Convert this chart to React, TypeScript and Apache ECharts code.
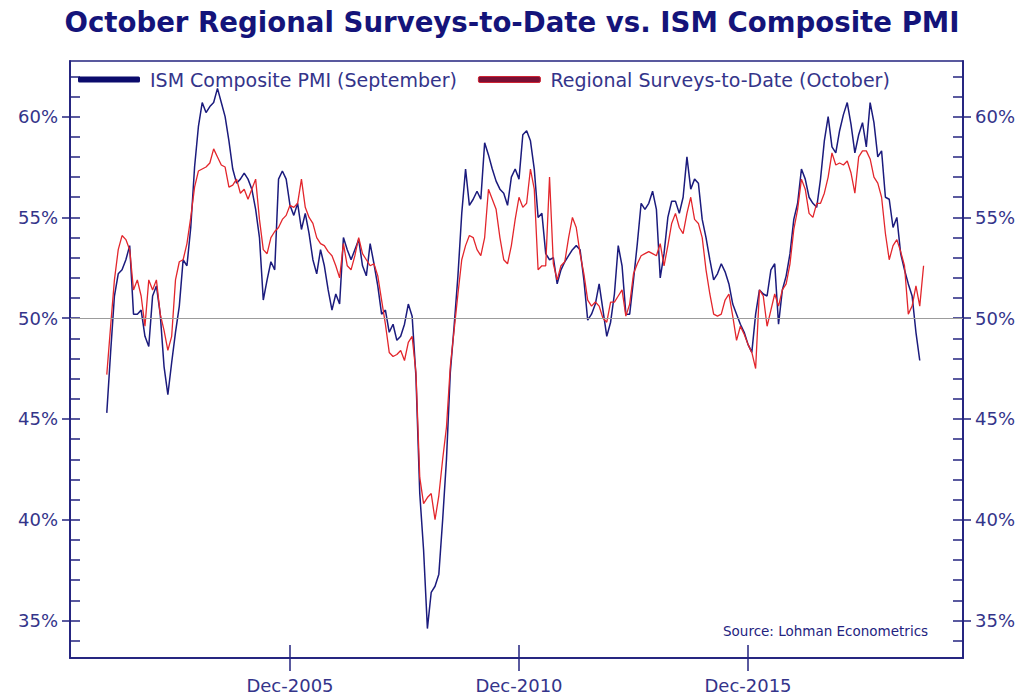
import { useEffect, useRef } from 'react';
import * as echarts from 'echarts';

// months counted from Jan 2000; both series start Dec 2001
const FIRST_MONTH = 23;

// ISM composite PMI, Dec 2001 - Sep 2019
const ismComposite = [
  45.3, 48.3, 51.1, 52.2, 52.4, 52.9, 53.6, 50.2, 50.2, 50.4,
  49.1, 48.6, 51.1, 51.6, 50.2, 47.6, 46.2, 47.8, 49.3, 50.6,
  52.9, 52.6, 54.5, 57.5, 59.5, 60.7, 60.2, 60.5, 60.7, 61.4,
  60.7, 60.0, 58.8, 57.4, 56.7, 56.9, 57.2, 56.9, 56.4, 55.4,
  54.0, 50.9, 51.9, 52.8, 52.4, 56.9, 57.3, 56.9, 55.6, 55.1,
  55.7, 54.4, 55.2, 54.2, 52.9, 52.2, 53.4, 52.6, 51.4, 50.4,
  51.2, 50.7, 54.0, 53.4, 52.9, 53.4, 53.9, 52.6, 52.1, 53.7,
  52.7, 51.6, 50.2, 50.4, 49.3, 49.7, 48.9, 49.1, 49.7, 50.7,
  50.1, 47.1, 41.3, 38.5, 34.6, 36.4, 36.7, 37.3, 40.0, 43.0,
  47.3, 49.6, 52.1, 55.2, 57.4, 55.6, 55.9, 56.3, 55.9, 58.7,
  58.1, 57.4, 56.8, 56.4, 56.2, 55.6, 57.0, 57.4, 56.9, 59.1,
  59.3, 58.8, 57.4, 55.0, 55.2, 53.2, 52.9, 53.0, 51.7, 52.4,
  52.8, 53.1, 53.4, 53.6, 53.4, 51.9, 49.9, 50.2, 50.7, 51.7,
  50.4, 49.1, 49.8, 51.2, 53.6, 52.6, 50.2, 50.2, 51.9, 53.7,
  55.7, 55.4, 55.7, 56.3, 55.4, 52.0, 53.2, 55.0, 55.8, 55.8,
  55.2, 56.0, 58.0, 56.4, 56.9, 56.7, 54.9, 54.0, 52.9, 51.9,
  52.2, 52.7, 52.3, 51.7, 50.7, 50.2, 49.7, 49.3, 48.7, 48.3,
  50.2, 51.4, 51.2, 51.1, 52.4, 52.7, 49.7, 51.4, 52.1, 53.2,
  54.9, 55.7, 57.4, 56.9, 56.0, 55.7, 55.5, 56.9, 58.8, 60.0,
  58.5, 58.2, 59.3, 60.1, 60.7, 59.6, 58.2, 59.1, 59.7, 58.5,
  60.7, 59.7, 58.0, 58.3, 56.0, 55.9, 54.5, 55.0, 53.2, 52.4,
  51.7, 51.1, 49.3, 47.9,
];

// regional surveys-to-date, Dec 2001 - Oct 2019
const regionalSurveys = [
  47.2, 49.6, 51.9, 53.4, 54.1, 53.9, 53.4, 51.4, 51.9, 51.1,
  49.6, 51.9, 51.4, 51.9, 50.2, 49.4, 48.4, 49.1, 51.9, 52.8,
  52.9, 53.7, 55.0, 56.5, 57.3, 57.4, 57.5, 57.7, 58.4, 58.0,
  57.6, 57.5, 56.5, 56.6, 56.9, 56.2, 56.4, 55.9, 56.4, 56.9,
  54.9, 53.4, 53.2, 54.0, 54.3, 54.5, 54.9, 55.1, 55.6, 55.5,
  55.7, 56.9, 55.5, 55.0, 54.7, 54.0, 53.7, 53.6, 53.3, 53.1,
  52.6, 52.0, 53.7, 52.6, 52.4, 53.1, 54.0, 53.2, 52.9, 52.6,
  52.7, 52.1, 50.9, 49.7, 48.3, 48.1, 48.2, 48.4, 47.9, 48.8,
  49.1, 47.3, 42.1, 40.8, 41.1, 41.3, 40.0, 41.2, 43.0, 44.6,
  47.6, 49.4, 51.2, 52.9, 53.6, 54.1, 54.0, 53.4, 53.1, 54.0,
  56.4, 55.9, 55.4, 54.0, 52.9, 52.7, 53.6, 54.9, 56.0, 55.5,
  55.7, 57.4, 56.4, 52.4, 52.6, 52.6, 57.0, 52.7, 51.9, 52.6,
  52.8, 54.0, 55.0, 54.5, 53.2, 52.2, 50.9, 50.6, 50.8, 50.6,
  50.0, 49.8, 50.8, 50.8, 51.1, 51.4, 50.1, 50.7, 52.2, 52.7,
  53.1, 53.2, 53.3, 53.2, 53.1, 53.7, 52.6, 53.6, 54.7, 55.2,
  54.5, 54.2, 55.2, 56.0, 54.9, 54.7, 54.0, 52.4, 51.2, 50.2,
  50.1, 50.2, 50.9, 51.2, 50.1, 48.9, 49.6, 49.2, 48.7, 48.3,
  47.5, 51.4, 51.1, 49.6, 50.4, 51.2, 50.6, 51.4, 51.7, 52.7,
  54.4, 55.4, 56.9, 56.4, 55.2, 55.0, 55.7, 55.7, 56.2, 57.0,
  58.2, 57.6, 57.7, 57.6, 57.8, 57.2, 56.2, 58.0, 58.3, 58.3,
  57.9, 57.0, 56.7, 56.0, 54.2, 52.9, 53.6, 53.9, 53.3, 52.6,
  50.2, 50.6, 51.6, 50.6, 52.6,
];

const tickMonths = [71, 131, 191];
const tickLabels = ['Dec-2005', 'Dec-2010', 'Dec-2015'];
const majorY = [35, 40, 45, 50, 55, 60];
const minorY = [
  34, 35, 36, 37, 38, 39, 40, 41, 42, 43, 44, 45, 46, 47, 48,
  49, 50, 51, 52, 53, 54, 55, 56, 57, 58, 59, 60, 61, 62,
];

const X_MIN = 13.36;
const X_MAX = 247.33;
const Y_MIN = 33.14;
const Y_MAX = 62.76;

const NAVY = '#23237f';
const LABEL = '#34348a';
const FONT = 'DejaVu Sans';

function toPoints(values: number[]) {
  return values.map((v, i) => [FIRST_MONTH + i, v]);
}

export default function App() {
  const chartRef = useRef<HTMLDivElement>(null);

  useEffect(() => {
    if (!chartRef.current) return;
    const chart = echarts.init(chartRef.current, null, { renderer: 'svg' });

    const tickLine = { color: NAVY, width: 1.5 };
    const yBase = {
      type: 'value',
      min: Y_MIN,
      max: Y_MAX,
      splitLine: { show: false },
      axisLine: { show: true, lineStyle: tickLine },
    };
    const yMajor = (position: string) => ({
      ...yBase,
      position,
      axisTick: { show: true, inside: false, length: 8, customValues: majorY, lineStyle: tickLine },
      axisLabel: {
        customValues: majorY,
        formatter: (v: number) => `${v}%`,
        margin: 12,
        color: LABEL,
        fontSize: 18,
        fontFamily: FONT,
      },
    });
    const yMinor = (position: string) => ({
      ...yBase,
      position,
      axisTick: { show: true, inside: true, length: 10, customValues: minorY, lineStyle: tickLine },
      axisLabel: { show: false },
    });
    const xBase = {
      type: 'value',
      min: X_MIN,
      max: X_MAX,
      position: 'bottom',
      splitLine: { show: false },
      axisLine: { show: true, lineStyle: tickLine },
    };

    const option: any = {
      animation: false,
      backgroundColor: '#ffffff',
      title: {
        text: 'October Regional Surveys-to-Date vs. ISM Composite PMI',
        left: 'center',
        top: 3,
        textStyle: { fontFamily: FONT, fontWeight: 'bold', fontSize: 27.6, color: '#14147a' },
      },
      legend: {
        left: 73,
        top: 65,
        itemWidth: 62,
        itemHeight: 6,
        itemGap: 21,
        icon: 'roundRect',
        textStyle: { fontFamily: FONT, fontSize: 19, color: LABEL, padding: [0, 0, 0, 5] },
        data: [
          { name: 'ISM Composite PMI (September)', itemStyle: { color: '#0b0b6c' } },
          { name: 'Regional Surveys-to-Date (October)', itemStyle: { color: '#7a1034', borderColor: '#d02434', borderWidth: 1 } },
        ],
      },
      grid: {
        left: 70,
        right: 61,
        top: 61,
        bottom: 42,
        show: true,
        borderColor: NAVY,
        borderWidth: 1.5,
      },
      xAxis: [
        {
          ...xBase,
          axisTick: { show: true, inside: false, length: 13, customValues: tickMonths, lineStyle: tickLine },
          axisLabel: {
            customValues: tickMonths,
            formatter: (v: number) => tickLabels[tickMonths.indexOf(v)] ?? '',
            margin: 18,
            color: LABEL,
            fontSize: 18,
            fontFamily: FONT,
          },
        },
        {
          ...xBase,
          axisTick: { show: true, inside: true, length: 13, customValues: tickMonths, lineStyle: tickLine },
          axisLabel: { show: false },
        },
      ],
      yAxis: [yMajor('left'), yMinor('left'), yMajor('right'), yMinor('right')],
      graphic: [
        {
          type: 'text',
          x: 723,
          y: 631,
          style: {
            text: 'Source: Lohman Econometrics',
            fill: NAVY,
            font: `13.5px "${FONT}"`,
            verticalAlign: 'middle',
          },
        },
      ],
      series: [
        {
          name: 'ISM Composite PMI (September)',
          type: 'line',
          xAxisIndex: 0,
          yAxisIndex: 0,
          data: toPoints(ismComposite),
          symbol: 'none',
          lineStyle: { color: '#1b1b7d', width: 1.5 },
          itemStyle: { color: '#1b1b7d' },
        },
        {
          name: 'Regional Surveys-to-Date (October)',
          type: 'line',
          xAxisIndex: 0,
          yAxisIndex: 0,
          data: toPoints(regionalSurveys),
          symbol: 'none',
          lineStyle: { color: '#e3262c', width: 1.3 },
          itemStyle: { color: '#e3262c' },
          markLine: {
            silent: true,
            symbol: ['none', 'none'],
            label: { show: false },
            lineStyle: { color: '#9c9c9c', width: 1, type: 'solid' },
            data: [{ yAxis: 50 }],
          },
        },
      ],
    };

    chart.setOption(option);
    return () => chart.dispose();
  }, []);

  return (
    <div
      ref={chartRef}
      style={{ position: 'fixed', left: 0, top: 0, width: 1024, height: 700, background: '#fff' }}
    />
  );
}
